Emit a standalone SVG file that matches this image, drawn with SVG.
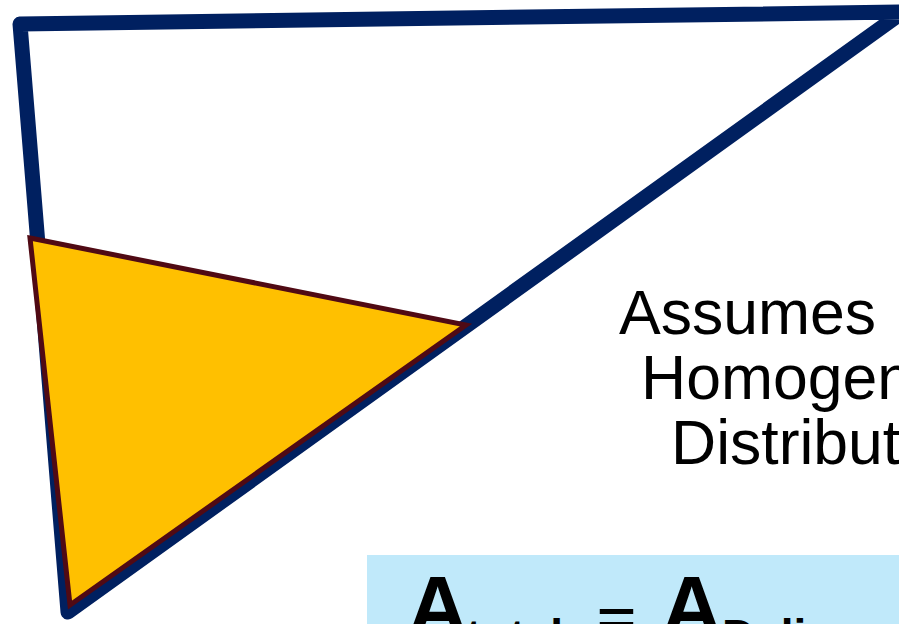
<svg xmlns="http://www.w3.org/2000/svg" width="899" height="624" viewBox="0 0 899 624">
  <style>
    .outline { fill: none; stroke: #002060; stroke-width: 15; stroke-linejoin: round; }
    .wedge { fill: #FFC000; stroke: #500A14; stroke-width: 5; stroke-linejoin: miter; }
    .note { font-family: "Liberation Sans", Arial, sans-serif; font-size: 62.5px; fill: #000; }
    .eq { font-family: "Liberation Sans", Arial, sans-serif; font-weight: bold; fill: #000; }
  </style>
  <rect width="899" height="624" fill="#FFFFFF"/>
  <g id="outer-triangle">
    <polygon class="outline" points="20,24 903,12 68,612"/>
  </g>
  <g id="wedge">
    <polygon class="wedge" points="30,238 466,325 70,605"/>
  </g>
  <g id="label">
    <text class="note" x="619" y="334">Assumes</text>
    <text class="note" x="641" y="399">Homogeneous</text>
    <text class="note" x="671" y="464">Distribution</text>
  </g>
  <g id="formula">
    <rect x="367" y="555" width="540" height="80" fill="#C0E9FA"/>
    <text class="eq" x="407" y="636" font-size="85">A</text>
    <text class="eq" x="466" y="652" font-size="46">total</text>
    <text class="eq" font-size="46" transform="translate(597,634) scale(1.45,1)">=</text>
    <text class="eq" x="661" y="636" font-size="85">A</text>
    <text class="eq" x="722" y="652" font-size="46">Delivered</text>
  </g>
</svg>
